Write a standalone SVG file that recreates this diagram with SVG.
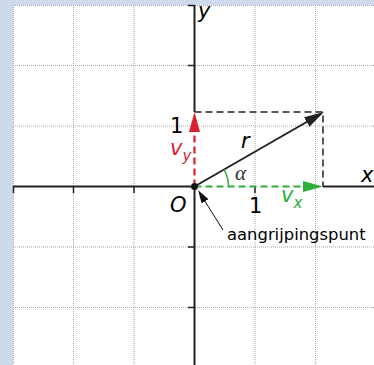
<svg xmlns="http://www.w3.org/2000/svg" width="374" height="365" viewBox="0 0 374 365">
<style>
.grid{stroke:#a8a8a8;stroke-width:1;stroke-dasharray:1,1;fill:none}
.axis{stroke:#222;stroke-width:2;fill:none}
.tick{stroke:#222;stroke-width:1.5;fill:none}
.lbl{font-family:"DejaVu Sans",sans-serif;font-size:21px;fill:#000}
.it{font-style:italic}
.red{fill:#d9212e}
.green{fill:#2fae3a}
</style>
<defs>
<marker id="ahRed" markerUnits="userSpaceOnUse" markerWidth="20" markerHeight="11" refX="2" refY="5.5" orient="auto"><path d="M0,0 L20,5.5 L0,11 z" fill="#d9212e"/></marker>
<marker id="ahGreen" markerUnits="userSpaceOnUse" markerWidth="20" markerHeight="11" refX="2" refY="5.5" orient="auto"><path d="M0,0 L20,5.5 L0,11 z" fill="#2fae3a"/></marker>
<marker id="ahBlack" markerUnits="userSpaceOnUse" markerWidth="20" markerHeight="11" refX="2" refY="5.5" orient="auto"><path d="M0,0 L20,5.5 L0,11 z" fill="#222"/></marker>
<marker id="ahSmall" markerUnits="userSpaceOnUse" markerWidth="13" markerHeight="8" refX="1" refY="4" orient="auto"><path d="M0,0 L13,4 L0,8 z" fill="#111"/></marker>
</defs>
<rect x="0" y="0" width="374" height="365" fill="#cdd9ec"/>
<rect x="13" y="5" width="361" height="360" fill="#fff"/>
<g id="grid">
<path class="grid" d="M13.5,5V365M73.5,5V365M134,5V365M255,5V365M315.5,5V365M13,5.5H374M13,65.5H374M13,126H374M13,247H374M13,307.5H374"/>
</g>
<g id="axes">
<path class="axis" d="M13,186.5H194.5M323,186.5H374"/>
<path class="axis" d="M194.5,5V112M194.5,186.5V365"/>
<path class="tick" d="M188,5.5H194.5M188,65.5H194.5M188,247H194.5M188,307.5H194.5M13.5,186.5V193M73.5,186.5V193M134,186.5V193M255,186.5V193"/>
<text class="lbl it" x="361" y="182">x</text>
<text class="lbl it" x="198" y="18">y</text>
<text class="lbl" x="170" y="133">1</text>
<text class="lbl" x="249" y="213">1</text>
<text class="lbl it" x="170" y="212">O</text>
</g>
<g id="connectors">
<path d="M194.5,112H323V186.5" fill="none" stroke="#222" stroke-width="1.5" stroke-dasharray="7,4"/>
<line x1="194.5" y1="186.5" x2="194.5" y2="130" stroke="#d9212e" stroke-width="2.2" stroke-dasharray="7,4" marker-end="url(#ahRed)"/>
<line x1="194.5" y1="186.5" x2="305" y2="186.5" stroke="#2fae3a" stroke-width="2.2" stroke-dasharray="7,4" marker-end="url(#ahGreen)"/>
<line x1="194.5" y1="186.5" x2="308.4" y2="121" stroke="#222" stroke-width="2" marker-end="url(#ahBlack)"/>
<path d="M228.5,186.5 A34,34 0 0 0 224,169.5" fill="none" stroke="#2fae3a" stroke-width="1.5"/>
<line x1="223" y1="230" x2="204.5" y2="200.5" stroke="#111" stroke-width="1" marker-end="url(#ahSmall)"/>
</g>
<g id="origin">
<circle cx="194.5" cy="186.5" r="3.5" fill="#111"/>
</g>
<g id="labels">
<text class="lbl it" x="241" y="148">r</text>
<text x="235" y="180" font-family="'Liberation Serif',serif" font-style="italic" font-size="21" fill="#333">α</text>
<text class="lbl it red" x="170" y="155">v<tspan font-size="15" dy="6">y</tspan></text>
<text class="lbl it green" x="281" y="202">v<tspan font-size="15" dy="6">x</tspan></text>
<text x="227" y="240" font-family="'DejaVu Sans',sans-serif" font-size="16.4" fill="#000">aangrijpingspunt</text>
</g>
</svg>
